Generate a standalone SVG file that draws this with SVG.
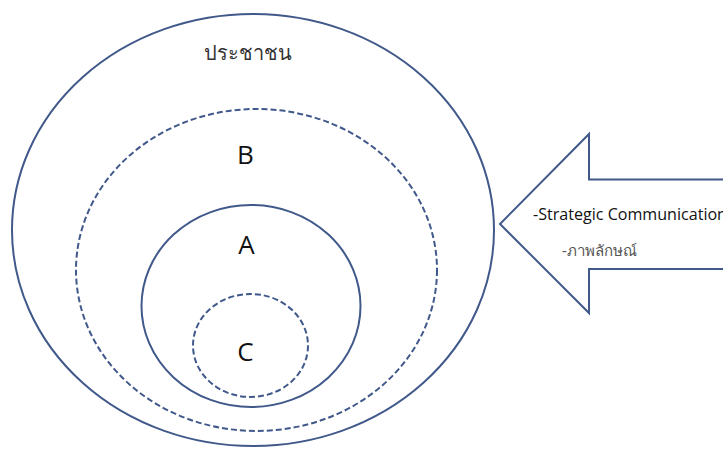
<svg xmlns="http://www.w3.org/2000/svg" width="723" height="450" viewBox="0 0 723 450">
<style>
.ln{fill:none;stroke:#41598a;stroke-width:2}
.dash{stroke-dasharray:6 3}
.big{font-family:"Open Sans","Liberation Sans",sans-serif;font-size:26px;fill:#111;text-anchor:middle}
.th{font-family:"Noto Sans","Noto Sans CJK SC",sans-serif}
</style>
<rect width="723" height="450" fill="#fff"/>
<g id="people">
<ellipse class="ln" cx="253" cy="230" rx="241" ry="216"/>
<text x="248" y="60" class="th" font-size="20" fill="#333" text-anchor="middle">ประชาชน</text>
</g>
<g id="B">
<ellipse class="ln dash" cx="256.5" cy="270" rx="180.5" ry="161"/>
<text x="245.5" y="164" class="big">B</text>
</g>
<g id="A">
<ellipse class="ln" cx="251" cy="306" rx="109.5" ry="101"/>
<text x="246.5" y="254" class="big">A</text>
</g>
<g id="C">
<ellipse class="ln dash" cx="250.5" cy="345.5" rx="57.5" ry="51.5"/>
<text x="245.5" y="361" class="big">C</text>
</g>
<g id="arrow">
<path class="ln" d="M730,179.5 H589 V134 L500,224 L589,313 V269 H730"/>
<text x="533" y="220" font-family="Open Sans, Liberation Sans, sans-serif" font-size="17" fill="#111" textLength="194" lengthAdjust="spacingAndGlyphs">-Strategic Communication</text>
<text x="562" y="256" class="th" font-size="15" fill="#555" textLength="75" lengthAdjust="spacingAndGlyphs">-ภาพลักษณ์</text>
</g>
</svg>
